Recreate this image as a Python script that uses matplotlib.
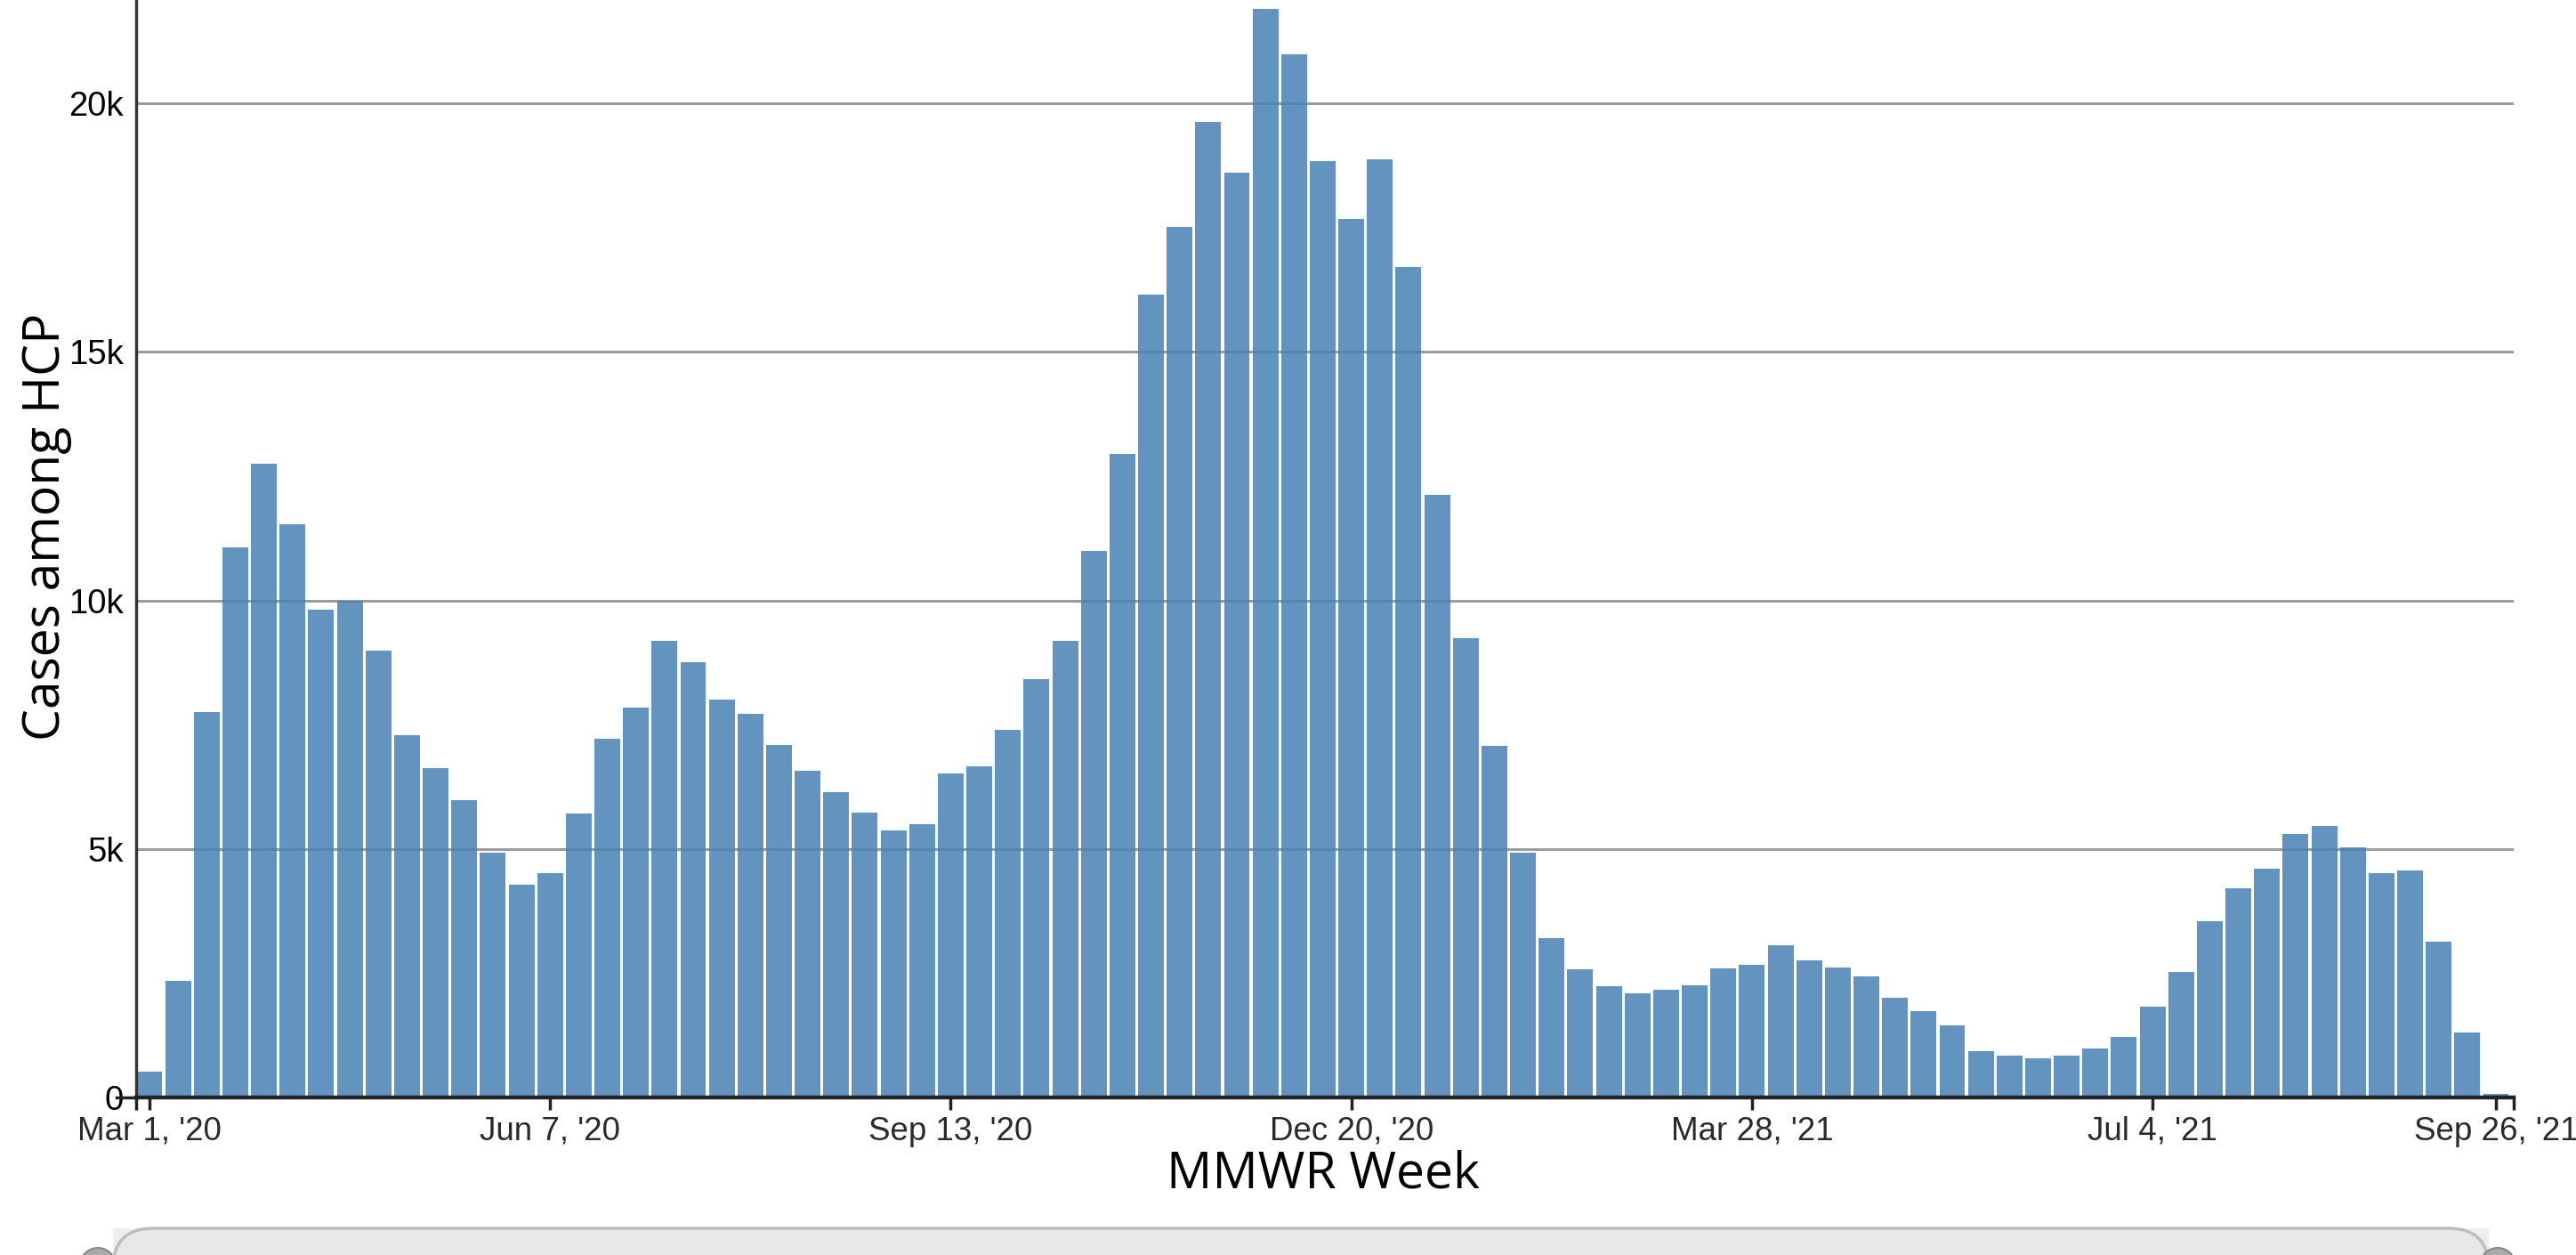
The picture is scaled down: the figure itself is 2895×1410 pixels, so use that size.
import numpy as np
import matplotlib
matplotlib.use("Agg")
import matplotlib.pyplot as plt
from matplotlib.patches import FancyBboxPatch, Rectangle, Circle

# weekly cases among HCP, MMWR weeks Mar 1 '20 .. Sep 26 '21
cases = [520, 2350, 7750, 11070, 12750, 11530, 9810, 10000, 8980, 7280,
         6630, 5980, 4930, 4280, 4520, 5710, 7220, 7840, 9180, 8760,
         8010, 7720, 7090, 6570, 6150, 5730, 5370, 5490, 6510, 6660,
         7390, 8410, 9180, 10990, 12940, 16150, 17520, 19630, 18600, 21890,
         20990, 18830, 17670, 18880, 16700, 12120, 9240, 7070, 4930, 3210,
         2580, 2230, 2090, 2160, 2260, 2590, 2670, 3070, 2750, 2610,
         2440, 2000, 1740, 1460, 940, 850, 790, 840, 980, 1210,
         1820, 2520, 3540, 4210, 4600, 5300, 5460, 5040, 4520, 4570,
         3140, 1300, 80]
tick_pos = [0, 14, 28, 42, 56, 70, 82]
tick_labels = ["Mar 1, '20", "Jun 7, '20", "Sep 13, '20", "Dec 20, '20",
               "Mar 28, '21", "Jul 4, '21", "Sep 26, '21"]
y_ticks = [0, 5000, 10000, 15000, 20000]
y_labels = ["0", "5k", "10k", "15k", "20k"]

fig = plt.figure(figsize=(28.95, 14.1), dpi=100)
ax = fig.add_axes([0.0528, 0.1255, 0.9230, 0.8745])

x = np.arange(len(cases))
for yt in y_ticks[1:]:
    ax.axhline(yt, color="#9c9c9c", lw=2.2, zorder=1)
ax.bar(x, cases, width=0.9, color="steelblue", alpha=0.85, zorder=2)

ax.set_xlim(-0.47, 82.62)
ax.set_ylim(0, 22077)

ax.set_xticks(tick_pos)
ax.set_xticklabels(tick_labels, fontsize=26.5, color="#2a2a2a",
                   family="Liberation Sans")
ax.set_xticks([-0.47, 82.62], minor=True)
ax.tick_params(axis="x", which="both", length=10, width=2.5, color="#222222", pad=5)
ax.set_yticks(y_ticks)
ax.set_yticklabels(y_labels, fontsize=27.5, family="Liberation Sans")
ax.tick_params(axis="y", length=0, pad=10)
ax.plot([-0.008, 0], [0, 0], transform=ax.transAxes, color="#222222",
        lw=2.5, clip_on=False)

for s in ["top", "right"]:
    ax.spines[s].set_visible(False)
ax.spines["left"].set_color("#333333")
ax.spines["left"].set_linewidth(2.4)
ax.spines["bottom"].set_color("#222222")
ax.spines["bottom"].set_linewidth(3.2)

fig.text(0.5138, 0.0532, "MMWR Week", fontsize=41, family="Open Sans",
         ha="center", va="baseline")
fig.text(0.018, 0.58, "Cases among HCP", fontsize=41, family="Open Sans",
         rotation=90, ha="center", va="center")

# range slider box at the bottom
tr = fig.dpi_scale_trans
fig.patches.append(Rectangle((1.27, -0.5), 26.7, 0.8, transform=tr,
                             facecolor="#eeeeee", edgecolor="none"))
fig.patches.append(FancyBboxPatch((1.27, -0.5), 26.7, 0.8, transform=tr,
                                  boxstyle="round,pad=0,rounding_size=0.45",
                                  facecolor="#e8e8e8", edgecolor="#bdbdbd", lw=2.5))
for cx in [1.10, 28.07]:
    fig.patches.append(Circle((cx, -0.12), 0.2, transform=tr,
                              facecolor="#aaaaaa", edgecolor="#888888", lw=1.5))

fig.savefig("out.png", dpi=100)
